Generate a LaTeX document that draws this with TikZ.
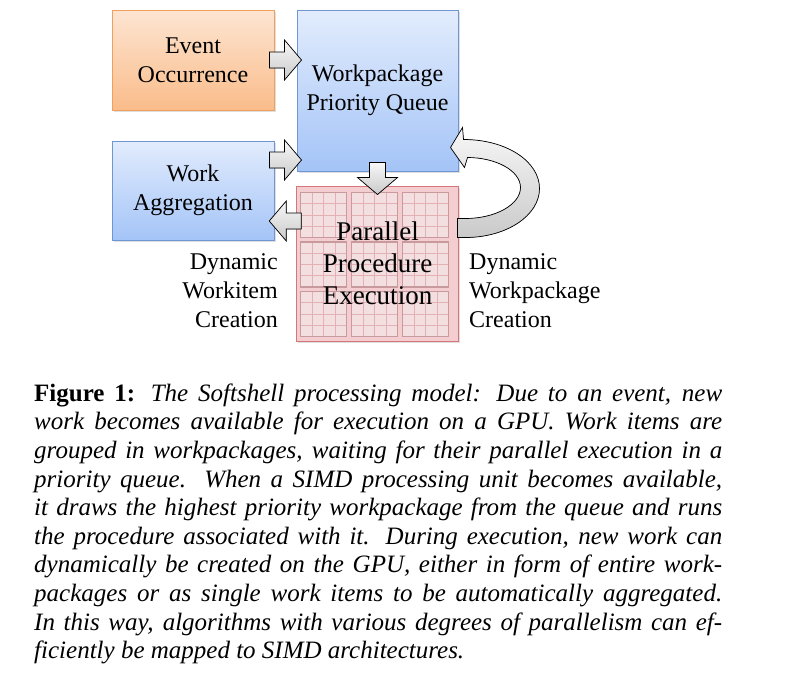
\documentclass[tikz,border=0pt]{standalone}
\usepackage{fontspec}
\setmainfont{Liberation Serif}
\usepackage{tikz}
\usetikzlibrary{calc,shadows}
\usepackage{xcolor}
\definecolor{evtop}{RGB}{253,229,210}
\definecolor{evbot}{RGB}{250,188,138}
\definecolor{evline}{RGB}{240,160,92}
\definecolor{qtop}{RGB}{226,236,253}
\definecolor{qbot}{RGB}{164,196,247}
\definecolor{qline}{RGB}{110,150,212}
\definecolor{exfill}{RGB}{243,205,207}
\definecolor{exline}{RGB}{214,118,122}
\definecolor{tilefill}{RGB}{243,222,224}
\definecolor{tilegrid}{RGB}{226,176,181}
\definecolor{tileedge}{RGB}{200,154,158}
\colorlet{arrtop}{gray!6}
\colorlet{arrbot}{gray!42}
\tikzstyle{box}=[rectangle,draw,line width=1pt,align=center,inner sep=0pt,
  font=\fontsize{24}{29}\selectfont,
  drop shadow={shadow xshift=1.5pt,shadow yshift=-2pt,opacity=0.25}]
\tikzstyle{event box}=[box,draw=evline,top color=evtop,bottom color=evbot]
\tikzstyle{queue box}=[box,draw=qline,top color=qtop,bottom color=qbot]
\tikzstyle{exec box}=[box,draw=exline,fill=exfill]
\tikzstyle{exec text}=[align=center,inner sep=0pt,font=\fontsize{27}{32}\selectfont]
\tikzstyle{side label}=[inner sep=0pt,font=\fontsize{24}{29}\selectfont]
\tikzstyle{block arrow}=[draw=black,line width=0.7pt,top color=arrtop,bottom color=arrbot]
% fat arrow with its middle at #1, turned by #2
\newcommand{\blockarr}[2]{%
  \filldraw[block arrow,shift={(#1)},rotate=#2]
    (-16,-8) -- (-1,-8) -- (-1,-20) -- (16,0) -- (-1,20) -- (-1,8) -- (-16,8) -- cycle;}

\begin{document}
\begin{tikzpicture}[x=1pt,y=-1pt]
  \def\tile{46}
  \def\cell{11.5}
  \useasboundingbox (0,0) rectangle (792,678);

  \node[event box,minimum width=162pt,minimum height=100pt] (event) at (193,60) {Event\\Occurrence};
  \node[queue box,minimum width=161pt,minimum height=161pt] (queue) at (377.5,90.5) {Workpackage\\Priority Queue};
  \node[queue box,minimum width=162pt,minimum height=99pt] (aggr) at (193,190.5) {Work\\Aggregation};
  \node[exec box,minimum width=162pt,minimum height=155pt] (exec) at (377.5,263.5) {};

  % 3x3 tiles of 4x4 cells
  \foreach \i in {0,1,2}
    \foreach \j in {0,1,2} {
      \begin{scope}[shift={($(exec.north west)+(4.5+51*\i,7+49.5*\j)$)}]
        \fill[tilefill] (0,0) rectangle (\tile,45);
        \foreach \k in {1,2,3} {
          \draw[tilegrid,line width=0.7pt] (\cell*\k,0) -- (\cell*\k,45);
          \draw[tilegrid,line width=0.7pt] (0,11.25*\k) -- (\tile,11.25*\k);
        }
        \draw[tileedge,line width=1.4pt] (0,0) rectangle (\tile,45);
      \end{scope}
    }
  \node[exec text] (exectext) at (exec) {Parallel\\Procedure\\Execution};

  \node[side label,anchor=east,align=right] (wilabel) at ($(exec.west)+(-18,27)$) {Dynamic\\Workitem\\Creation};
  \node[side label,anchor=west,align=left] (wplabel) at ($(exec.east)+(10,27)$) {Dynamic\\Workpackage\\Creation};

  % arrows
  \coordinate (ev2q) at ($(event.east)!0.5!(queue.west |- event.east)$);
  \coordinate (ag2q) at ($($(aggr.north east)!0.5!(queue.south west)$)+(0,4)$);
  \coordinate (q2ex) at ($(queue.south)!0.5!(exec.north)$);
  \coordinate (ex2ag) at ($($(aggr.east)!0.5!(exec.west)$)+(0,-6)$);
  \blockarr{ev2q}{0}
  \blockarr{ag2q}{0}
  \blockarr{q2ex}{-90}
  \blockarr{ex2ag}{180}

  \filldraw[block arrow,shift={(queue.south east)}]
    (-1,66) -- (7,66) .. controls (48,66) and (81,44) .. (81,17)
    .. controls (81,-10) and (48,-32) .. (5,-32)
    -- (4,-44) -- (-8,-24) -- (6,-4) -- (9,-14)
    .. controls (37,-14) and (62,-1) .. (62,16)
    .. controls (62,33) and (37,47) .. (7,47) -- (-1,47) -- cycle;

  \node[anchor=north west,text width=688pt,align=justify,inner sep=0pt,
    font=\fontsize{25}{28.6}\selectfont] (caption) at (34,383.5)
  {\textbf{Figure 1:} \textit{The Softshell processing model: Due to an event, new\linebreak
  work becomes available for execution on a GPU. Work items are\linebreak
  grouped in workpackages, waiting for their parallel execution in a\linebreak
  priority queue. When a SIMD processing unit becomes available,\linebreak
  it draws the highest priority workpackage from the queue and runs\linebreak
  the procedure associated with it. During execution, new work can\linebreak
  dynamically be created on the GPU, either in form of entire work-\linebreak
  packages or as single work items to be automatically aggregated.\linebreak
  In this way, algorithms with various degrees of parallelism can ef-\linebreak
  ficiently be mapped to SIMD architectures.}};
\end{tikzpicture}
\end{document}
